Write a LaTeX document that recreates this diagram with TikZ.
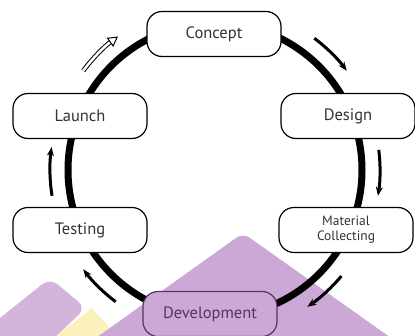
\documentclass[tikz,border=0pt]{standalone}
\usepackage{fontspec}
\setmainfont{PT Sans}
\usetikzlibrary{arrows.meta}
\definecolor{lilac}{RGB}{203,168,213}
\definecolor{plum}{RGB}{90,50,100}
\definecolor{cream}{RGB}{252,240,188}

\begin{document}
\begin{tikzpicture}[x=1pt,y=-1pt,
  stage/.style={draw, line width=1.2pt, rounded corners=15pt, fill=white,
    minimum width=134pt, minimum height=45pt, align=center, text=black!80,
    font=\fontsize{16.5}{17}\selectfont},
  turn/.style={line width=3pt, -{Stealth[length=9pt,width=7pt]}}]
\useasboundingbox (0,0) rectangle (415,335);
% background patches
\fill [cream] (92,308)--(45,345)--(125,345)--cycle;
\fill [lilac!85, rounded corners=10pt] (-20,334)--(50,278)--(86,308)--(50,342)--cycle;
\fill [lilac, rounded corners=8pt] (86,345)--(243,233)--(401,345)--cycle;
% the cycle
\coordinate (hub) at (215,170);
\draw [line width=7pt] (hub) circle [radius=147];
\node[stage] (concept) at (214,34) {Concept};
\node[stage] (launch) at (80,116) {Launch};
\node[stage] (design) at (348,116) {Design};
\node[stage] (testing) at (80,230) {Testing};
\node[stage, font=\fontsize{13.5}{15}\selectfont] (material) at (346,230) {Material\\Collecting};
\node[stage, fill=lilac, draw=plum, text=plum] (development) at (210,314) {Development};
% direction arrows
\draw [turn] ([shift={(hub)}]-53:165) arc [start angle=-53, end angle=-37, radius=165];
\draw [turn] ([shift={(hub)}]-7:165) arc [start angle=-7, end angle=9, radius=165];
\draw [turn] ([shift={(hub)}]40:165) arc [start angle=40, end angle=56, radius=165];
\draw [turn] ([shift={(hub)}]127:165) arc [start angle=127, end angle=143, radius=165];
\draw [turn] ([shift={(hub)}]171:165) arc [start angle=171, end angle=188, radius=165];
\draw [line width=1pt, double=white, double distance=2.5pt, -{Triangle[open,length=10pt,width=11pt]}]
  ([shift={(hub)}]217:165) arc [start angle=217, end angle=234, radius=165];
\end{tikzpicture}
\end{document}
